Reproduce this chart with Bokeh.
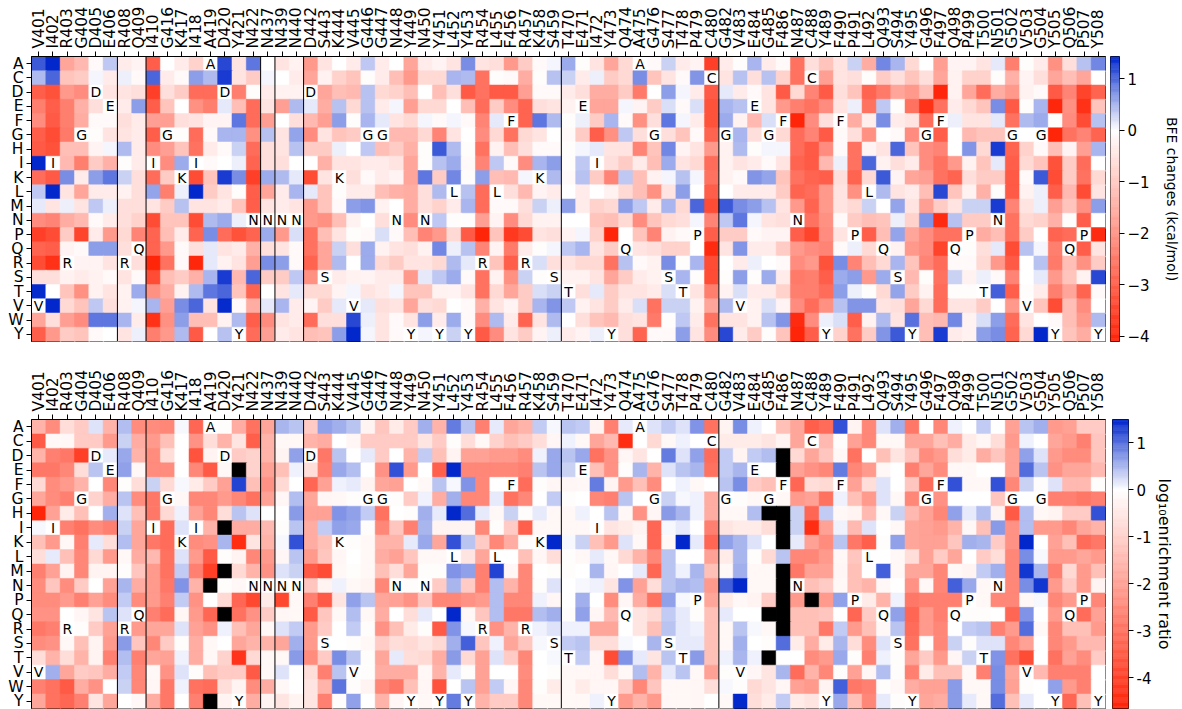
import numpy as np
from bokeh.plotting import figure
from bokeh.models import Range1d, FixedTicker, LinearColorMapper, ColumnDataSource, Span
from bokeh.layouts import row, column
from bokeh.core.properties import value
from bokeh.embed import file_html
from bokeh.resources import INLINE

nan = float("nan")

residues = ["V401", "I402", "R403", "G404", "D405", "E406", "R408", "Q409", "I410", "G416",
            "K417", "I418", "A419", "D420", "Y421", "N422", "N437", "N439", "N440", "D442",
            "S443", "K444", "V445", "G446", "G447", "N448", "Y449", "N450", "Y451", "L452",
            "Y453", "R454", "L455", "F456", "R457", "K458", "S459", "T470", "E471", "I472",
            "Y473", "Q474", "A475", "G476", "S477", "T478", "P479", "C480", "G482", "V483",
            "E484", "G485", "F486", "N487", "C488", "Y489", "F490", "P491", "L492", "Q493",
            "S494", "Y495", "G496", "F497", "Q498", "P499", "T500", "N501", "G502", "V503",
            "G504", "Y505", "Q506", "P507", "Y508"]
amino_acids = ["A", "C", "D", "E", "F", "G", "H", "I", "K", "L",
               "M", "N", "P", "Q", "R", "S", "T", "V", "W", "Y"]
segment_starts = ["R408", "I410", "N437", "N439", "D442", "T470", "G482"]

# ---- BFE changes (kcal/mol), one list per mutant amino acid ----
bfe_A = [1.1, 1.43, -1.7, -1.3, -0.1, 0.35, -0.35, -0.2, -3.0, 0.0, -0.35, -0.85, 0.0, 1.2, -0.5, 0.9, 0.0, -0.5, -0.25,
         -1.9, -0.5, 0.0, -0.35, 0.35, -0.35, 0.0, -1.7, -0.35, -0.2, -0.5, 0.75, -0.5, -0.6, -1.9, -0.95, -0.1, 0.05, 0.55,
         -0.05, -0.5, -1.7, -0.7, 0.0, -0.1, 0.3, -0.35, -0.2, -3.6, -0.35, -0.05, 0.5, -0.35, -0.1, -2.65, -0.6, -1.1, -0.5,
         0.3, -1.55, 0.8, 0.5, -0.7, 0.0, -1.8, -0.2, -0.2, -0.5, 0.15, -2.4, -0.05, -0.35, -2.05, -0.6, 0.4, 0.8]
bfe_C = [0.45, 1.0, -1.1, -0.95, 0.05, -0.35, 0.1, -0.1, 1.0, -0.35, -0.1, 0.65, 0.45, 1.3, -0.5, -0.95, 0.05, 0.0, -0.35,
         -1.7, -0.25, -0.85, -1.1, -0.05, -0.35, -1.2, -1.9, -0.7, -0.7, 0.5, 0.45, -2.65, -0.05, -0.1, -1.55, -0.05, 0.4, 0.3,
         -0.35, 0.1, -0.95, -0.7, 0.75, -1.1, -0.5, -0.1, 0.7, 0.0, -0.5, 0.4, -0.6, 0.4, -0.85, -2.65, 0.0, -1.8, -0.5,
         -0.6, -0.05, -0.95, -0.6, -1.1, -0.6, -1.7, -0.25, -0.85, -0.85, -0.05, -1.45, -0.2, -0.6, -1.7, -1.2, -1.7, 0.0]
bfe_D = [-3.0, -3.25, -1.9, -2.15, 0.0, -0.5, -0.5, -0.6, -3.6, -0.6, -0.95, -2.75, -2.75, 0.0, -2.4, -0.05, -0.35, -0.25, -0.25,
         0.0, -1.7, -1.2, -1.3, 0.4, -0.7, -0.85, -1.2, 0.0, -1.2, -0.6, -3.1, -2.65, -3.1, -3.1, -1.8, -0.1, -0.1, -0.35,
         -0.6, -1.55, -1.55, -0.95, -2.5, 0.0, 0.65, 0.05, -0.35, -3.1, 0.15, -0.35, -0.1, -0.5, -3.1, -0.7, -2.3, -3.1, -0.6,
         -1.1, -2.9, -2.5, -1.7, -1.9, -1.2, -4.05, -0.25, -1.7, -2.75, -1.55, -1.9, -0.25, -0.1, -3.1, -2.3, -3.5, -2.9]
bfe_E = [-2.4, -3.0, -2.4, -1.45, -0.6, 0.0, -0.35, 0.65, -3.0, -1.1, 0.0, -2.05, -2.4, 0.15, -1.2, -2.75, -0.5, -1.8, 0.45,
         0.15, -1.55, 0.4, -0.7, 0.4, -0.35, 0.05, -1.8, -0.7, -0.7, 0.0, -1.2, -2.75, -0.95, -2.15, -2.9, -0.6, -0.5, -0.25,
         0.0, -1.7, -1.7, 0.05, -0.2, -0.95, 0.2, -0.1, 0.2, -3.25, 0.5, 0.4, 0.0, -0.5, -1.9, -2.4, -2.65, -2.15, -0.5,
         0.1, -2.65, 0.35, -0.05, -2.65, -3.85, -2.65, -0.35, -0.7, -1.1, 0.75, -3.1, -0.05, 0.5, -4.05, -2.05, -3.85, -1.1]
bfe_F = [-2.15, -3.1, -2.4, -1.55, -0.1, -0.1, -0.6, -0.35, -1.8, -1.8, -0.6, -0.5, -0.2, -0.2, 0.9, -2.75, -1.8, 0.0, -0.6,
         -1.3, -1.8, 0.65, -0.05, 0.5, 0.15, -0.5, -0.7, 0.05, -0.1, 0.05, -0.1, -2.3, 0.15, 0.0, -2.9, 0.9, 0.45, -0.05,
         0.1, -0.95, 0.5, -0.1, -2.05, -0.6, 0.9, 0.05, -0.35, -3.25, 0.55, -0.25, -1.3, 0.2, 0.0, -4.1, -2.15, -0.6, 0.0,
         -1.55, -0.3, 0.75, -0.35, -0.5, -2.75, 0.0, 0.1, -0.5, -0.5, 0.15, -2.65, 0.45, 0.55, -0.05, -2.15, -3.35, 0.4]
bfe_G = [-3.0, -3.35, -2.5, 0.0, -0.05, -0.5, -0.5, -0.35, -3.0, 0.0, -0.05, -2.75, -0.1, 0.5, 0.5, -2.05, 0.4, -0.5, 0.6,
         -2.15, -0.5, -1.1, -0.95, 0.0, 0.0, -1.3, -1.3, -0.7, -2.3, -0.5, 0.0, -2.15, -0.7, -2.65, -0.7, -0.5, 0.0, -0.1,
         -0.95, -3.0, -2.05, 0.35, -0.6, 0.0, -0.6, -1.1, -0.1, -2.9, 0.0, 0.5, -0.6, 0.0, -0.7, -2.75, -2.3, -3.1, -0.1,
         -0.6, -2.05, 0.0, -0.1, -2.15, 0.0, -3.0, 0.0, -1.3, -1.1, -1.1, 0.0, 0.0, 0.0, -4.1, -2.65, -2.3, -2.9]
bfe_H = [-3.1, -3.25, -1.2, -1.2, -0.2, 0.05, 0.45, -0.35, -2.15, -1.8, -1.1, -2.65, -0.35, -0.1, 0.3, -2.75, -0.6, -0.5, 0.4,
         -0.95, -0.95, 0.1, 0.0, 0.35, -1.2, -0.95, -1.45, -0.05, 1.1, 0.45, -0.05, -2.65, -0.25, -1.2, -0.6, -0.1, -0.1, -0.05,
         0.05, 0.15, -0.5, -0.5, -2.3, -1.1, 0.8, -0.2, -0.5, -1.9, -0.25, 0.45, -0.05, 0.05, 0.05, -2.75, -3.1, -2.15, -0.1,
         -2.65, -0.2, -0.5, 1.0, -1.1, -2.15, -2.3, 0.0, 0.7, -0.7, 1.3, -2.9, -0.85, -0.1, -1.2, -0.2, -1.8, 0.5]
bfe_I = [1.43, 0.0, -1.3, -2.4, -0.95, -1.45, -0.05, -0.35, 0.0, -2.15, 0.55, 0.0, -0.1, 0.0, 0.1, -2.9, -0.6, -0.6, 0.0,
         0.0, -1.45, -0.5, -0.5, -0.35, -0.35, -0.5, -1.7, -0.05, 0.4, 0.55, -0.1, -2.3, 0.35, -0.1, -2.15, 0.5, 0.65, -0.05,
         0.35, 0.0, -0.6, -0.95, -0.35, -1.2, 0.55, -0.5, -0.7, -2.75, -0.25, -0.5, -0.35, -0.1, -0.5, -2.9, -3.1, -1.3, 0.1,
         -2.65, 1.0, -0.25, -0.6, -0.35, -2.15, -2.65, -1.9, -0.25, -1.1, 0.15, -3.0, -0.7, -1.1, -3.25, -0.95, -2.75, 0.0]
bfe_K = [-2.75, -3.1, 0.75, -0.35, 0.65, 0.9, 0.3, -0.6, -2.75, -0.95, 0.0, -3.35, -1.1, 1.3, 0.75, -3.6, 0.55, 0.45, 0.15,
         -3.35, -0.5, 0.0, -0.6, -0.1, -0.35, -0.2, -1.7, 0.9, -0.95, 0.8, -0.05, 0.65, -1.2, -1.3, 0.05, 0.0, 0.45, -0.1,
         0.4, -0.95, -2.3, 0.35, -1.2, -0.25, 0.05, 0.4, 0.05, -2.65, -0.25, -0.1, 0.7, 0.6, -1.1, -2.65, -2.9, -3.0, -0.6,
         -2.9, -0.7, 1.1, -0.2, -1.7, -1.8, -2.65, -2.9, -0.6, -0.95, -0.95, -3.1, -0.1, 1.1, -3.35, -0.95, -2.65, -0.7]
bfe_L = [0.35, 1.43, -0.5, -1.7, -0.35, -0.35, -0.25, -0.6, 0.6, -2.4, 0.1, 1.43, -0.95, -0.5, -0.05, -3.0, -1.7, -0.35, 0.5,
         0.15, -1.1, -0.05, -0.35, -0.35, -1.2, -1.45, -1.55, -0.6, 0.45, 0.0, 0.4, -2.75, 0.0, -0.6, -1.3, -0.2, -0.35, 0.0,
         -0.35, 0.0, -0.25, -0.7, -1.2, -2.05, -0.5, 0.65, 0.0, -3.0, 0.0, -0.35, -0.35, -0.35, -0.95, -2.9, -2.75, -1.9, -0.5,
         -2.05, 0.0, 0.45, -0.5, -0.35, -1.2, 1.2, -1.1, -0.25, -1.45, -0.05, -3.1, -0.25, 0.1, -3.0, -1.3, -3.35, -0.5]
bfe_M = [0.15, -0.5, 0.1, -0.5, 0.35, 0.1, -0.6, -0.6, -0.5, -0.95, 0.4, -0.5, -0.5, -0.35, -1.1, -3.0, -0.5, -0.35, -0.5,
         -1.9, -1.1, -0.1, 0.65, 0.7, -0.25, 0.0, -1.55, -0.6, -0.85, -0.35, 0.5, -2.75, -0.1, -0.1, -0.6, 0.3, 0.1, 0.65,
         -0.35, -0.85, -0.7, 0.65, 0.35, -0.35, 0.5, -0.7, 1.0, -3.35, 1.1, 0.75, 0.65, 0.4, -0.5, -1.9, -2.9, -1.9, -0.5,
         -0.7, 0.3, 0.0, 0.6, -0.5, -1.8, -0.95, -0.5, 0.3, 0.3, 1.3, -2.3, -0.5, 0.1, -1.8, -1.1, -2.05, 0.65]
bfe_N = [-2.15, -2.3, -1.55, -1.3, -0.1, -0.35, -0.6, -0.85, -3.35, -1.1, -1.1, -3.35, 0.45, 0.55, 0.1, 0.0, 0.0, 0.0, 0.0,
         -1.9, -2.05, -1.2, -0.25, 0.0, -0.6, 0.0, -2.15, 0.0, 0.35, -0.05, -0.05, -1.8, -0.2, -2.15, -0.7, -0.25, -0.25, 0.0,
         0.0, -1.1, -1.2, -0.7, -2.15, -1.1, -0.7, -0.6, 0.05, -2.3, 0.35, 0.9, 0.05, -0.5, -0.6, 0.0, -2.65, -2.05, -0.1,
         -0.95, -1.2, -1.1, 0.1, -0.85, 0.7, -3.95, 0.4, -0.95, -0.95, 0.0, -2.65, -0.7, -0.85, -1.45, -0.05, -3.0, 0.0]
bfe_P = [-3.6, -3.35, -0.95, -3.5, -0.35, -1.9, -0.7, -2.3, -2.9, -1.2, -0.35, -2.9, 0.75, -2.75, -3.25, -2.9, 0.55, -1.9, 0.2,
         -2.65, -1.2, -0.5, -0.05, -0.1, 0.2, -0.1, -1.2, -2.3, -1.9, -0.7, -3.1, -4.1, -1.1, -3.7, -3.35, -0.5, -0.6, -0.2,
         0.05, -0.85, -4.1, 0.0, -1.1, -2.3, -0.25, -0.1, 0.0, -3.0, -0.95, -0.95, -0.1, -0.2, -0.2, -3.0, -3.5, -2.15, -0.5,
         0.0, -3.0, -1.2, 0.6, -1.7, -2.15, -2.65, -2.65, 0.0, -1.55, -1.2, -2.65, -0.95, 0.0, -2.9, -2.75, 0.0, -3.95]
bfe_Q = [-2.9, -3.0, -0.2, -0.1, 0.65, 0.65, -0.6, 0.0, -2.9, -1.9, -0.1, -0.6, 0.15, -0.5, -0.35, -1.45, -0.6, -0.5, -0.1,
         -2.65, -1.7, 0.3, -0.6, 0.55, -0.25, -0.5, -0.6, -0.25, 0.8, 0.1, 0.4, -2.3, -0.2, -2.5, -0.35, -0.05, 0.05, 0.35,
         0.5, -0.5, -0.95, 0.0, -0.5, -0.6, -0.85, -0.85, 0.0, -3.95, -0.5, 0.7, -0.35, -0.35, -0.95, -1.9, -2.15, -2.3, -0.1,
         0.1, -0.7, 0.0, -0.25, -1.9, -2.15, -3.5, 0.0, -0.05, -0.6, 0.15, -3.35, 0.4, 0.05, -2.4, 0.0, -3.0, -0.5]
bfe_R = [-3.35, -3.85, 0.0, -0.2, -0.2, -0.5, 0.0, -0.6, -4.1, -2.65, -0.1, -4.05, 0.15, -0.25, -0.5, -1.8, 0.75, 0.65, -0.1,
         -2.9, -1.7, 0.45, 0.0, 0.55, -0.7, -0.95, -0.5, -0.5, -0.7, 0.45, 0.15, 0.0, -1.1, -3.0, 0.0, 0.2, -0.6, -0.5,
         -0.7, -0.7, -2.65, 0.4, -0.1, -0.25, 0.75, -0.05, 0.5, -3.35, 0.0, -0.35, 0.1, 0.0, -0.1, -2.15, -1.9, -3.25, 0.75,
         -2.3, -1.2, -0.7, 0.5, -1.1, -2.3, -2.75, -0.1, -0.1, -0.7, -1.9, -3.1, 0.0, 0.4, -2.5, -1.2, -2.05, -0.95]
bfe_S = [-0.6, -0.6, -0.25, -0.35, -0.25, -0.1, -0.5, -0.1, -3.35, -1.2, -0.95, -1.45, 0.5, 1.3, -1.3, 1.0, -0.95, -0.95, 0.35,
         -2.05, 0.0, -0.35, -0.25, -0.2, -0.35, -0.35, -1.9, 0.15, 0.35, 0.55, -0.1, -2.65, -0.25, -2.05, 0.3, -0.05, 0.0, -0.25,
         -0.25, -0.5, -1.7, -0.95, -0.35, -0.25, 0.0, 0.5, -0.05, -3.35, -0.05, 0.65, -0.05, 0.55, -0.35, -2.5, -2.4, -3.0, 0.55,
         0.65, -1.9, 0.55, 0.0, -1.3, -0.05, -2.65, 0.3, -0.25, 0.1, -0.1, -2.3, 0.0, 0.15, -1.9, -1.1, -0.25, 1.2]
bfe_T = [1.4, 0.0, -1.1, -2.05, -0.25, -0.5, -0.25, 0.55, -2.05, -1.55, -0.25, 0.45, 0.9, 1.0, -1.1, -2.9, 0.0, -0.5, 0.15,
         -0.7, -0.7, -0.2, 0.05, -0.5, -0.35, 0.05, -1.1, -1.1, -0.25, -0.2, -0.5, -2.65, -0.7, -1.7, -0.95, 0.2, 0.3, 0.0,
         -0.6, 0.15, -0.95, -0.5, -0.5, -0.35, 0.2, 0.0, -0.5, -2.4, -0.25, 0.2, -0.35, -0.35, -0.85, -2.4, -2.4, -2.75, 0.65,
         0.1, -0.05, -0.7, 0.6, -0.95, -0.25, -2.75, -0.05, -0.05, 0.0, 1.05, -3.0, -0.05, -0.35, -2.4, -1.7, -2.9, -0.1]
bfe_V = [0.0, 1.43, -0.7, -1.1, 0.35, -0.6, -0.25, 0.05, 0.5, -1.8, 0.75, 1.0, -0.5, 1.4, -0.1, -1.55, 0.15, 0.5, -0.35,
         -0.2, -0.95, 0.15, 0.0, 0.15, -0.6, -0.5, -1.7, -0.6, -0.7, 0.0, -0.1, -1.45, -0.5, -0.2, -0.95, 0.5, 0.7, 0.35,
         -0.25, -0.5, -0.95, -0.35, 0.2, -2.65, 0.3, 0.3, -0.25, -1.7, 0.45, 0.0, -0.25, 0.2, -0.2, -2.15, -2.75, -2.05, 0.4,
         0.7, 0.7, -0.5, -0.6, -1.7, -0.7, -2.75, -0.5, -0.5, -0.95, 0.0, -1.9, 0.0, -1.1, -3.35, -1.2, -2.15, 0.0]
bfe_W = [-1.7, -0.6, -1.8, -2.15, 0.9, 0.9, 0.5, -0.35, -3.85, -2.05, 0.65, -1.2, -1.2, -0.25, 0.45, -3.0, -2.15, -0.5, -0.35,
         -2.75, -0.6, -0.6, 1.2, 0.1, -0.5, -0.1, -0.5, 0.65, -0.35, 0.55, -0.1, -2.15, 0.45, -0.35, -2.9, -0.5, 0.45, 0.0,
         -0.6, -1.1, -1.3, -0.6, -0.5, -2.5, -0.05, 0.35, -0.35, -2.65, -0.5, -0.5, -0.25, 0.4, 0.7, -3.95, -2.15, 0.1, 0.2,
         -3.0, -0.25, 0.45, -0.5, 0.95, -1.2, -1.3, 0.8, -0.25, 0.2, 0.65, -2.75, -0.5, 0.0, -0.1, -1.2, -1.9, 0.45]
bfe_Y = [-3.0, -1.9, -0.95, -1.1, -0.1, 0.0, -0.5, 0.1, -2.4, -1.9, 0.45, -3.1, 0.0, 0.4, 0.0, -2.75, -1.8, -0.35, -0.5,
         -1.2, -1.1, 0.65, 1.43, 0.05, -0.5, -0.1, 0.0, 0.05, 0.0, 0.3, 0.0, -3.1, -2.15, -0.5, -0.95, -0.2, 0.1, -0.35,
         -0.2, 0.1, 0.0, -0.6, -2.9, -0.1, -0.1, 0.65, -0.5, -2.15, 1.2, -0.35, -0.95, -0.05, -1.1, -4.1, -3.0, 0.0, -0.85,
         -2.65, -0.95, 0.7, 1.1, 0.0, -1.2, 1.3, -0.35, -0.25, 0.65, 0.75, -2.9, -0.7, 1.43, 0.0, -1.1, -1.55, 0.0]

# ---- log10 enrichment ratio, one list per mutant amino acid (nan = no data) ----
enr_A = [-1.6, -2.45, -0.7, -1.1, 0.2, -1.6, 0.45, -2.45, -2.45, -2.55, 0.05, -3.25, 0.0, -0.05, -1.75, -3.0, -1.9, 0.5, 0.4,
         -1.1, 0.65, 0.55, 0.4, -0.25, -1.2, -0.4, -1.1, 0.55, -1.6, 0.9, 0.4, -2.7, 0.15, -1.9, -1.6, 0.35, 0.05, 0.4,
         0.35, -0.25, -2.7, 0.15, 0.0, 0.2, 0.35, 0.2, 0.75, -3.0, -0.25, 0.8, 0.1, 0.0, -1.35, -1.9, -3.4, -3.1, 1.2,
         -0.25, -2.55, 0.2, 0.55, -2.85, 0.0, -2.55, 0.1, 0.0, 0.35, 0.0, -2.0, 0.4, 0.55, -2.15, -2.0, -1.1, -1.1]
enr_C = [-3.5, -0.15, -0.15, -1.1, -1.1, -2.15, 0.3, -1.75, -2.15, -1.35, 0.0, -2.3, -0.7, -1.6, -0.55, -3.4, -1.6, -0.15, -0.15,
         -1.6, -1.75, 0.0, -0.2, -1.1, -1.1, -1.1, -1.1, -0.55, -1.1, -0.05, -0.7, -0.15, -0.95, -1.35, -1.1, -0.7, -0.2, 0.1,
         -0.15, -1.9, -1.5, -4.45, 0.0, -0.8, -0.15, 0.1, 0.0, 0.0, -0.4, -0.4, -0.4, -0.55, -0.25, -1.9, 0.0, -1.5, -0.05,
         -2.0, -2.55, -0.15, -0.15, -1.9, -1.9, -1.35, -1.75, -0.4, -0.2, -0.7, -2.15, 0.1, 0.0, -1.9, -2.15, -2.7, -1.2]
enr_D = [-1.6, -2.7, -2.85, -4.05, 0.0, 0.15, 0.6, -1.6, -2.45, -0.7, 0.0, -3.65, -0.25, 0.0, -1.1, -0.95, -1.6, -0.25, 0.65,
         0.0, -2.85, 0.4, 0.0, 0.15, -1.1, 0.0, -1.6, 0.35, -1.35, -0.25, -2.0, -2.0, -2.15, -2.15, -2.45, 0.1, 0.6, 0.4,
         0.6, -3.0, -2.3, -0.2, -0.55, 0.0, 0.9, 0.2, 0.65, -3.1, 0.35, -0.25, 0.35, 0.45, nan, -0.8, -1.9, -1.2, -0.15,
         -3.0, 0.0, -1.35, -0.55, -1.2, -2.45, -2.15, -0.7, -0.4, -1.75, -1.2, -2.0, 0.65, 0.2, -2.15, -2.45, -2.45, -1.2]
enr_E = [-2.85, -2.85, -2.55, -0.7, 0.4, 0.0, 0.65, -0.15, -2.45, -2.45, 0.0, -2.55, -3.5, -0.15, nan, -0.95, -2.0, -1.35, 0.1,
         -0.7, -2.7, 0.6, 0.45, 0.0, -2.3, 1.2, -2.15, 0.0, -3.4, 1.5, -2.55, -2.55, -2.55, -2.55, -2.7, 0.4, 0.6, 0.3,
         0.0, -1.35, -2.3, -0.05, 0.5, -1.6, 0.2, 0.4, 0.5, -3.0, 0.35, 0.5, 0.0, 0.0, nan, -2.0, -2.3, -2.55, 0.9,
         -2.55, -2.15, -0.15, 0.0, -2.7, -1.9, -2.45, -0.15, -0.15, 0.0, 0.0, -2.0, 1.0, 0.4, -2.3, -1.9, -1.9, -1.5]
enr_F = [-0.8, -2.45, -2.15, -1.6, 0.0, -2.55, -0.05, -0.7, 0.3, -0.8, 0.05, -0.4, -1.1, -2.0, 1.3, -1.35, -2.3, -0.8, 0.0,
         -3.25, -2.0, 0.1, 0.15, -0.25, -1.9, -2.0, 0.0, -0.15, 0.4, 0.05, 0.75, -2.55, 0.0, 0.0, -3.1, -0.05, -0.2, -0.2,
         -0.15, 0.9, -0.25, -2.15, -1.35, -2.45, 0.0, 0.1, -0.15, 0.0, 0.4, 0.8, -1.1, -1.35, 0.0, -3.25, -0.7, -0.8, 0.0,
         -2.0, -0.7, 0.2, 0.0, -1.2, -3.1, 0.0, 1.2, -0.15, -0.15, 1.2, -2.55, 0.3, -0.05, 0.2, -1.5, -1.5, -0.05]
enr_G = [-1.9, -2.45, -2.7, 0.0, -0.95, -1.75, 0.4, -2.45, -2.85, 0.0, -0.15, -2.55, -2.55, -2.15, -2.55, -3.0, -2.0, -0.2, 0.45,
         -1.9, -0.2, -0.15, -0.05, 0.0, 0.0, -0.05, -1.1, 0.1, -1.75, 0.55, -2.55, -2.55, 0.15, -3.0, -2.55, 0.0, 0.35, -0.05,
         0.0, -2.55, -2.7, 0.4, 0.0, 0.0, 0.3, 0.05, 0.1, -1.75, 0.0, -0.05, -0.15, 0.0, -0.15, -2.15, -2.0, -3.0, 0.1,
         -1.35, -2.15, 0.2, -0.15, -2.55, 0.0, -2.3, 0.0, 0.0, 0.0, -1.2, 0.0, 0.0, 0.0, -2.7, -2.7, -2.85, -2.7]
enr_H = [-4.65, -2.0, -0.4, -1.35, 0.0, 0.55, 0.2, -1.35, -2.85, -0.8, 0.1, -2.0, -2.55, -0.7, 0.4, 0.2, 0.0, 0.0, 0.7,
         -2.0, -2.0, 0.75, 0.65, 0.35, -3.0, 0.0, -0.05, 0.55, 0.15, 1.5, 1.0, 0.15, -0.15, 0.3, -0.05, 0.15, -0.15, -0.15,
         0.1, 0.0, 0.4, -0.15, -2.3, -0.2, 0.7, 0.5, 0.1, -1.75, -0.15, -0.15, 0.45, nan, nan, 0.3, -3.25, 0.35, -0.15,
         -0.25, -1.5, -0.15, 0.3, -1.5, -2.0, -2.55, 0.65, 0.15, 0.45, -0.25, -3.5, 0.45, -0.15, -0.25, -1.1, -1.1, 1.2]
enr_I = [0.05, 0.0, -2.7, -3.0, -2.45, -2.7, 0.3, -1.9, 0.0, -3.1, 0.2, 0.0, -1.6, nan, -1.75, -1.75, -1.5, -0.05, 0.4,
         -1.75, 0.35, 0.65, 0.6, -0.05, -2.55, -1.2, -2.7, 0.5, -0.25, -0.25, -0.25, -2.55, -0.05, -1.1, -3.4, -0.15, -0.15, -0.15,
         -0.15, 0.0, -0.55, -0.4, -0.25, -3.25, 0.05, 0.15, 0.0, -2.7, -0.55, -0.4, -0.4, -0.7, nan, 0.3, -4.45, -2.0, 0.1,
         -1.5, 0.2, 0.0, -0.15, -1.9, -2.0, -2.15, -1.6, -0.15, -1.35, 0.7, -2.3, 0.45, -2.15, -2.15, -2.55, -1.9, -1.6]
enr_K = [-1.35, -2.15, -0.15, -2.7, 0.15, -0.7, 0.45, -1.9, -2.85, -3.1, 0.0, -2.45, -2.3, 0.5, -4.45, -0.55, -1.6, 0.05, 1.2,
         -1.75, -1.35, 0.0, -0.05, -0.15, -1.6, -1.6, 0.15, 0.6, -1.9, 1.2, 0.4, -1.1, -2.55, -1.75, -0.05, 0.0, 1.5, 0.05,
         0.3, -1.35, -2.15, 0.2, -0.15, -3.25, -0.15, 1.5, 0.15, -3.25, 0.65, 0.5, 0.2, 0.0, nan, 0.15, -2.0, -2.45, 0.4,
         -2.85, -3.4, -0.05, 0.65, -1.9, -2.0, -2.0, -1.2, 0.55, 0.5, -1.1, -2.3, 1.5, 0.0, -2.0, -1.35, -3.1, -2.85]
enr_L = [-0.7, 0.15, -1.35, -2.55, -0.8, -2.15, -0.15, -1.75, -1.5, -3.0, 0.2, -2.15, -3.5, -0.05, -0.25, -2.55, -2.15, -0.2, 0.4,
         -2.15, -1.2, -0.2, 0.0, -0.15, -1.75, -2.0, -1.2, -0.15, -0.15, 0.0, -0.55, -1.9, 0.0, 0.0, -1.35, -0.2, -0.7, -0.05,
         -0.15, 0.15, -0.15, -0.8, -1.6, -2.55, 0.4, 0.0, 0.0, -2.0, -0.4, 0.5, -0.05, -0.8, 0.4, -2.55, -2.55, -2.15, -0.15,
         -1.2, 0.0, 0.0, -0.15, -0.7, -2.0, -1.1, -1.9, 0.0, -1.1, -0.7, -2.55, 0.8, 0.05, -2.15, -2.15, -1.9, -2.15]
enr_M = [-2.7, -2.0, -0.25, -2.55, -0.25, -0.25, -0.05, -1.2, -2.15, -3.0, 0.35, -2.7, -4.05, nan, -0.8, -1.6, -2.3, 0.2, 0.3,
         -3.5, -3.8, -0.15, -0.05, -0.15, -1.35, -0.7, -1.9, -0.05, -0.05, 0.75, 0.65, -2.7, 1.3, -0.2, -2.55, 0.0, -0.05, -0.05,
         0.0, 0.5, -0.2, 0.0, 0.15, -3.25, 0.4, 0.1, 0.5, -1.35, -0.15, 0.55, -0.15, -0.15, nan, -2.85, -2.0, -2.0, -0.2,
         -1.35, 0.0, 1.1, -0.15, -1.9, -1.9, -2.55, -0.15, -0.25, 0.35, 0.55, -2.55, 1.4, 0.5, -2.7, -0.8, -2.15, -1.35]
enr_N = [-2.45, -1.2, -2.45, -1.1, 0.0, -2.0, 0.5, -1.75, -2.15, -2.85, 0.75, -1.6, nan, -0.05, -0.15, 0.0, 0.0, 0.0, 0.0,
         -1.2, -0.25, 0.1, -0.15, -0.25, -2.55, 0.0, -0.05, 0.0, -1.1, 0.5, -1.1, -2.7, 0.45, -1.6, -2.55, -0.05, 0.2, 0.0,
         0.05, 0.1, -0.55, 0.75, -2.0, -0.7, 0.4, 0.5, 0.45, -2.15, 1.1, 1.5, -0.15, -0.15, nan, 0.0, -1.35, -1.1, -0.15,
         -1.35, -1.6, -0.15, 0.0, -2.3, -0.15, -2.55, 1.1, 0.6, -0.15, 0.0, -2.55, 0.8, 1.4, -2.15, -1.1, -2.15, -0.25]
enr_P = [-2.45, -2.45, -2.15, -2.7, -2.0, -2.45, 0.35, -2.45, -2.15, -2.7, 0.35, -2.3, 0.0, -0.8, -3.25, -3.9, -0.4, -3.9, -0.15,
         -2.7, -3.5, -0.55, 0.65, 0.4, -1.9, -2.0, -2.3, -1.2, -2.55, -2.55, -2.3, -2.15, 0.45, -2.55, -2.55, 0.1, -0.2, 0.0,
         0.55, 0.0, -2.45, -0.2, -1.75, -3.0, 0.65, 0.05, 0.0, -1.9, -0.4, -0.15, -0.25, -1.1, nan, -2.15, nan, -2.15, 0.65,
         0.0, -0.4, -1.6, 0.1, -2.85, -2.7, -2.7, -2.7, 0.0, -0.15, -2.55, -2.55, -0.15, 0.05, -2.55, -2.15, 0.0, -2.55]
enr_Q = [-2.3, -2.3, 0.0, -0.2, -0.55, 0.4, 0.2, 0.0, -2.7, -3.1, -0.2, -2.15, -3.25, nan, -3.0, -2.3, -1.1, -0.2, -0.15,
         -3.5, -1.2, -0.15, 0.45, -0.15, -1.75, 0.0, -0.7, 0.15, 0.0, 1.5, -0.15, -1.2, 0.45, -2.85, -2.85, 0.45, 0.55, -0.05,
         0.65, -0.2, -1.5, 0.0, -0.55, -0.8, 0.35, 0.15, -0.05, -1.35, 0.15, 0.0, 0.0, nan, nan, -1.35, -1.35, -1.2, 0.0,
         -3.25, -1.1, 0.0, 0.65, -3.25, -2.15, -2.7, 0.0, -0.05, -0.05, 0.0, -3.25, 0.75, 0.0, -2.15, 0.0, -3.1, -2.0]
enr_R = [-2.85, -2.7, 0.0, -0.05, -1.1, -2.0, 0.0, -2.15, -1.9, -1.9, 0.2, -2.0, -2.3, 0.1, -1.35, -1.9, -0.15, 0.2, 0.35,
         -2.15, -1.1, 0.0, 0.35, -0.05, -2.3, -1.35, -0.4, -0.05, -3.5, 0.75, 0.05, 0.0, -2.3, -1.6, 0.0, 0.1, 0.2, 0.1,
         0.1, -1.9, -1.9, 0.0, -0.55, -1.35, 0.4, 0.15, 0.1, -1.35, -0.15, 0.4, 0.05, -0.15, nan, -1.35, -1.35, -2.85, 0.35,
         -2.15, -1.35, -0.15, 0.4, -3.1, -2.15, -2.55, 0.0, 0.35, 0.4, -2.7, -2.15, 1.0, -0.15, -2.55, -1.35, -1.35, -2.15]
enr_S = [-2.45, -2.3, -0.15, -1.35, -0.25, -2.15, 0.7, -1.2, -2.55, -1.1, -0.05, -1.75, -0.15, 0.0, -1.9, -1.6, -1.6, -1.9, 0.55,
         -2.15, 0.0, 0.0, -0.05, -0.15, -1.1, -0.7, -0.8, -0.55, -0.8, 0.55, 1.1, -1.2, 0.1, -1.9, -1.2, 0.05, 0.0, 0.35,
         0.4, -0.7, -0.7, 0.05, 0.0, 0.5, 0.0, 0.15, 0.15, -1.35, -0.15, 0.55, 0.0, -0.05, 1.0, -0.4, -1.75, -0.4, 0.5,
         -0.7, -2.45, 0.2, 0.0, -3.0, -0.05, -2.55, 0.3, -0.05, 0.2, 0.2, -2.55, -2.0, 0.0, -2.55, -2.15, -1.5, -1.5]
enr_T = [-0.7, -1.6, -0.7, -1.6, -0.25, -2.7, 0.45, -2.7, -1.9, -2.0, 0.1, -1.75, -0.15, -0.95, -4.3, -0.8, -0.15, -0.15, 0.7,
         -2.45, -1.1, 0.8, 0.4, -0.05, -1.9, 0.15, -0.7, -0.8, -1.75, 0.7, -0.8, -2.0, 0.2, -1.1, -2.55, 0.0, 0.05, 0.0,
         0.35, -0.2, -3.8, 0.75, 0.15, -0.55, 0.4, 0.0, 0.7, -1.35, 0.1, 0.5, 0.1, nan, 0.0, 0.0, -2.45, -2.15, 0.6,
         -0.05, -2.7, 0.1, -0.05, -1.9, -1.1, -2.15, -0.2, 0.3, 0.0, 0.75, -3.0, -3.8, 0.0, -3.0, -2.0, -2.45, -1.1]
enr_V = [0.0, 0.55, -1.9, -1.1, -1.2, -1.75, 0.35, -2.55, -0.15, -2.3, 0.2, -0.05, -1.35, -1.1, -1.1, -3.5, -0.15, 0.2, 0.0,
         -0.7, -2.7, 0.4, 0.0, -0.05, -1.75, -1.75, -1.75, -0.15, -1.6, 0.15, -0.05, -2.0, 0.0, 0.0, -2.45, 0.0, -0.05, -0.15,
         -0.15, -0.2, -0.7, -0.15, 0.45, -1.6, 0.15, 0.4, -0.15, -2.0, -0.05, 0.0, -0.2, -0.55, 0.5, -3.1, -1.6, -2.55, -0.05,
         -2.0, -0.2, 0.45, -0.05, -2.7, -0.4, -1.35, -1.35, -0.15, -2.7, 0.8, -1.9, 0.0, -1.5, -2.7, -2.7, -2.7, 0.0]
enr_W = [-2.7, -3.0, -3.5, -1.75, -2.3, 0.0, 0.3, -2.55, -0.2, -2.85, 0.1, -3.0, -3.1, -0.7, -0.25, -2.45, -1.75, -0.15, 0.0,
         -0.55, -1.6, 0.95, -0.05, -0.25, -2.55, -2.85, -1.35, -0.2, -3.65, 0.0, 0.4, -2.0, 0.35, -0.2, -2.55, -0.05, -0.4, -0.15,
         -0.4, -0.2, -0.2, -1.1, -2.55, -1.2, -0.15, -0.15, -0.2, -0.7, 0.05, -0.05, -0.8, -0.55, -0.2, -2.0, -2.15, -0.25, 1.1,
         -2.85, -2.7, -0.05, -0.15, -1.75, -2.0, -2.0, 0.7, -0.15, -0.15, 0.8, -2.0, -0.05, 0.0, 0.65, -2.15, -2.7, 0.0]
enr_Y = [-1.9, -3.0, -3.25, -2.7, -0.55, -1.9, 0.0, -0.15, -1.75, -2.85, 0.0, -2.7, nan, -0.25, 0.0, -1.75, -0.25, -0.55, -0.25,
         -0.55, -2.7, -0.05, 0.65, 0.0, -1.6, -0.2, 0.0, -0.15, 0.0, 0.9, 0.0, -1.6, -1.1, -1.1, -2.55, -0.15, -0.15, -0.15,
         -0.15, 0.1, 0.0, -2.15, -1.6, -2.15, -0.15, -0.15, -0.2, 0.0, -0.15, 1.5, -0.7, -0.4, 0.35, -0.4, -0.55, 0.0, 0.6,
         -1.35, -2.55, 0.15, -0.05, 0.0, -1.9, -1.75, 0.7, 0.15, -0.15, 1.0, -1.35, 0.15, 0.0, 0.0, -3.25, -1.35, 0.0]

bfe_rows = [bfe_A, bfe_C, bfe_D, bfe_E, bfe_F, bfe_G, bfe_H, bfe_I, bfe_K, bfe_L,
            bfe_M, bfe_N, bfe_P, bfe_Q, bfe_R, bfe_S, bfe_T, bfe_V, bfe_W, bfe_Y]
enr_rows = [enr_A, enr_C, enr_D, enr_E, enr_F, enr_G, enr_H, enr_I, enr_K, enr_L,
            enr_M, enr_N, enr_P, enr_Q, enr_R, enr_S, enr_T, enr_V, enr_W, enr_Y]

bfe_label = "BFE changes (kcal/mol)"
enr_label = "log\u2081\u2080enrichment ratio"
bar_ticks = [-4, -3, -2, -1, 0, 1]

FONT = "DejaVu Sans"
BLUE_END = (0, 38, 204)
RED_END = (255, 36, 8)
NCOL = len(residues)
NROW = len(amino_acids)
W_MAIN, W_BAR = 1106, 76


def ramp(lo, hi, n=256):
    cols = []
    for i in range(n):
        v = lo + (i + 0.5) * (hi - lo) / n
        if v < 0:
            t, end = v / lo, RED_END
        else:
            t, end = v / hi, BLUE_END
        rgb = tuple(int(round(255 + (end[k] - 255) * t)) for k in range(3))
        cols.append("#%02x%02x%02x" % rgb)
    return cols


def style_axis(ax, size):
    ax.major_label_text_font = FONT
    ax.major_label_text_font_size = size
    ax.major_label_text_color = "black"
    ax.major_tick_out = 5
    ax.major_tick_in = 0
    ax.minor_tick_line_color = None
    ax.axis_line_color = "black"
    ax.major_tick_line_color = "black"


def heatmap(rows, lo, hi, height, top, bottom):
    mapper = LinearColorMapper(palette=ramp(lo, hi), low=lo, high=hi, nan_color="black")
    xs, ys, vs = [], [], []
    for j, r in enumerate(rows):
        assert len(r) == NCOL
        for i, v in enumerate(r):
            xs.append(i); ys.append(j); vs.append(v)
    src = ColumnDataSource(dict(x=xs, y=ys, v=np.array(vs, dtype=float)))
    p = figure(width=W_MAIN, height=height, x_range=Range1d(-0.5, NCOL - 0.5),
               y_range=Range1d(NROW - 0.5, -0.5), x_axis_location="above",
               output_backend="svg", toolbar_location=None,
               min_border_top=top, min_border_bottom=bottom, min_border_left=31, min_border_right=1)
    p.rect(x="x", y="y", width=1, height=1, source=src, dilate=True,
           fill_color={"field": "v", "transform": mapper},
           line_color={"field": "v", "transform": mapper}, line_width=0.5)
    wt = [r[0] for r in residues]
    p.text(x=list(range(NCOL)), y=[amino_acids.index(a) for a in wt], text=wt,
           text_font=value(FONT), text_font_size="14px", text_align="center",
           text_baseline="middle", text_color="black")
    for s in segment_starts:
        p.add_layout(Span(location=residues.index(s) - 0.5, dimension="height",
                          line_color="black", line_width=1))
    p.xaxis.ticker = FixedTicker(ticks=list(range(NCOL)))
    p.xaxis.major_label_overrides = {i: r for i, r in enumerate(residues)}
    p.xaxis.major_label_orientation = "vertical"
    p.xaxis.major_label_standoff = 3
    p.yaxis.ticker = FixedTicker(ticks=list(range(NROW)))
    p.yaxis.major_label_overrides = {j: a for j, a in enumerate(amino_acids)}
    p.yaxis.major_label_standoff = 3
    style_axis(p.xaxis[0], "15.5px")
    style_axis(p.yaxis[0], "15.5px")
    p.grid.visible = False
    p.outline_line_color = "black"
    p.outline_line_alpha = 1.0
    p.outline_line_width = 1
    return p, mapper


def colorbar(mapper, lo, hi, label, labels, height, top, bottom, left, right, lab_size, standoff):
    c = figure(width=W_BAR, height=height, x_range=Range1d(0, 1), y_range=Range1d(lo, hi),
               x_axis_location=None, y_axis_location="right",
               output_backend="svg", toolbar_location=None,
               min_border_top=top, min_border_bottom=bottom,
               min_border_left=left, min_border_right=right)
    n = len(mapper.palette)
    edges = np.linspace(lo, hi, n + 1)
    src = ColumnDataSource(dict(b=edges[:-1], t=edges[1:], m=(edges[:-1] + edges[1:]) / 2))
    c.quad(left=0, right=1, bottom="b", top="t", source=src,
           fill_color={"field": "m", "transform": mapper},
           line_color={"field": "m", "transform": mapper}, line_width=0.5)
    ax = c.yaxis[0]
    ax.ticker = FixedTicker(ticks=bar_ticks)
    ax.major_label_overrides = dict(zip(bar_ticks, labels))
    ax.major_label_standoff = 3
    style_axis(ax, "15px")
    ax.axis_line_color = None
    ax.axis_label = label
    ax.axis_label_text_font = FONT
    ax.axis_label_text_font_size = lab_size
    ax.axis_label_text_font_style = "normal"
    ax.axis_label_text_color = "black"
    ax.axis_label_standoff = standoff
    c.grid.visible = False
    c.outline_line_color = "black"
    c.outline_line_alpha = 1.0
    return c


LO1, HI1 = -4.1, 1.43
LO2, HI2 = -4.65, 1.5
H1, H2 = 363, 346

labels_top = ["\u22124", "\u22123", "\u22122", "\u22121", "0", "1"]
labels_bottom = ["-4", "-3", "-2", "-1", "0", "1"]

p1, m1 = heatmap(bfe_rows, LO1, HI1, H1, 56, 22)
c1 = colorbar(m1, LO1, HI1, bfe_label, labels_top, H1, 56, 22, 4, 57, "14px", 11)
p2, m2 = heatmap(enr_rows, LO2, HI2, H2, 56, 1)
c2 = colorbar(m2, LO2, HI2, enr_label, labels_bottom, H2, 56, 1, 6, 54, "16px", 1)

layout = column(row(p1, c1), row(p2, c2))
open("out.html", "w").write(file_html(layout, INLINE))
